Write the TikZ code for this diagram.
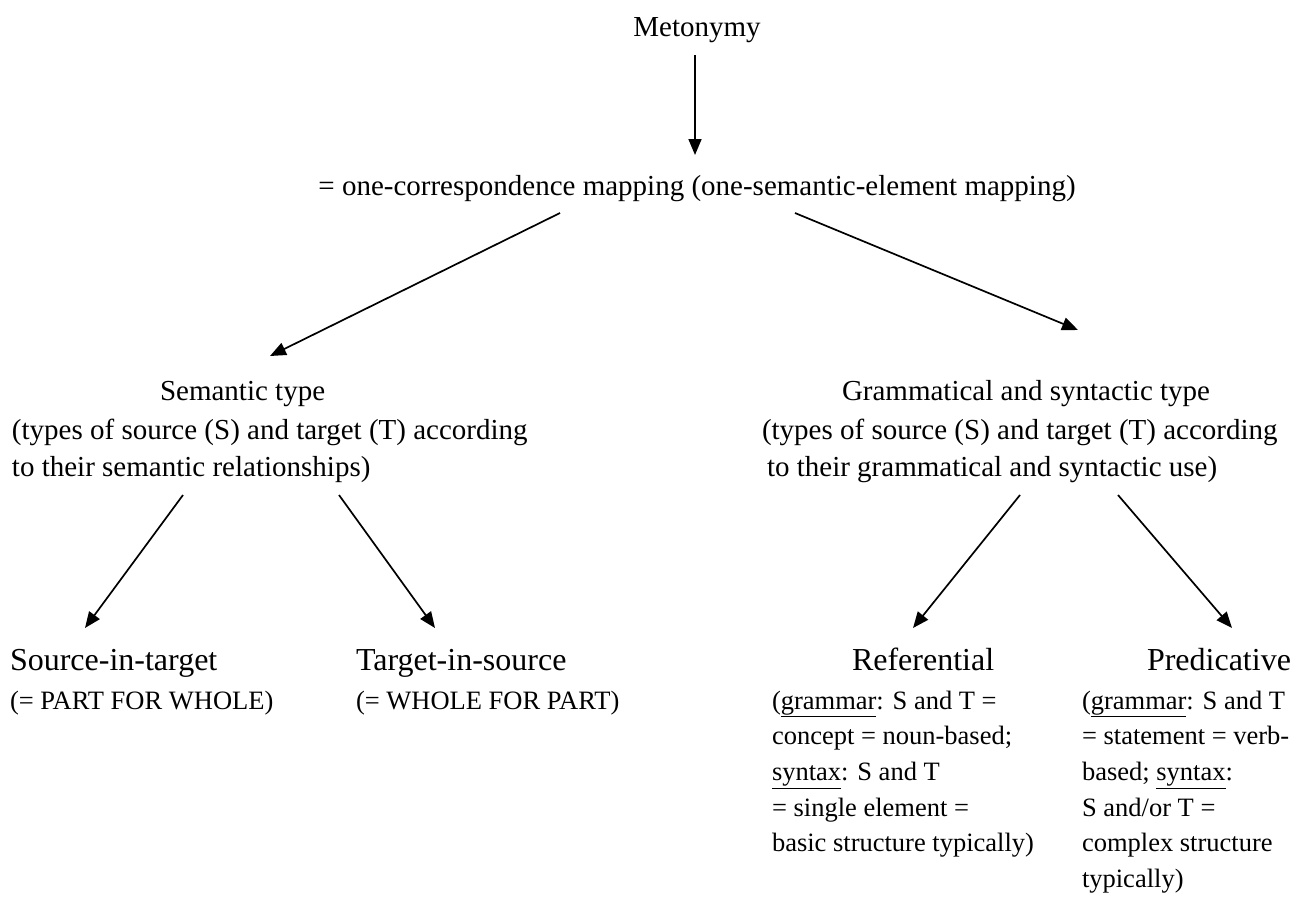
\documentclass[tikz,border=0pt]{standalone}
\usepackage{fontspec}
\setmainfont{Liberation Serif}
\usetikzlibrary{arrows.meta}

\begin{document}
\begin{tikzpicture}
  [x=1pt, y=-1pt,
   every node/.style = {inner sep=0pt, outer sep=0pt},
   lbl/.style = {font=\fontsize{29}{37}\selectfont},
   leaf/.style = {font=\fontsize{32}{38}\selectfont, anchor=base west},
   note/.style = {font=\fontsize{26.5}{35.6}\selectfont, align=left, anchor=north west},
   desc/.style = {lbl, align=left, anchor=north west},
   arr/.style = {-{Triangle[length=16pt, width=13pt]}, line width=1.7pt}
  ]
  \useasboundingbox (0,0) rectangle (1304,900);

  % top of the tree
  \node[lbl, anchor=base] (meto) at (697,36) {Metonymy};
  \node[lbl, anchor=base] (map) at (697,195)
    {= one-correspondence mapping (one-semantic-element mapping)};

  % the two types
  \node[lbl, anchor=base west] (sem) at (160,400) {Semantic type};
  \node[desc] (semdesc) at (12,419)
    {(types of source (S) and target (T) according\\
     to their semantic relationships)};
  \node[lbl, anchor=base west] (gram) at (842,400) {Grammatical and syntactic type};
  \node[desc] (gramdesc) at (762,419)
    {(types of source (S) and target (T) according\\
     \hspace*{5pt}to their grammatical and syntactic use)};

  % leaves
  \node[leaf] (src) at (10,670) {Source-in-target};
  \node[leaf] (tgt) at (356,670) {Target-in-source};
  \node[leaf] (ref) at (852,670) {Referential};
  \node[leaf] (pred) at (1147,670) {Predicative};

  \node[note] (srcdesc) at (10,691) {(= PART FOR WHOLE)};
  \node[note] (tgtdesc) at (356,691) {(= WHOLE FOR PART)};
  \node[note] (refdesc) at (772,691)
    {(\underline{grammar}: S and T =\\
     concept = noun-based;\\
     \underline{syntax}: S and T\\
     = single element =\\
     basic structure typically)};
  \node[note] (preddesc) at (1082,691)
    {(\underline{grammar}: S and T\\
     = statement = verb-\\
     based; \underline{syntax}:\\
     S and/or T =\\
     complex structure\\
     typically)};

  % arrow ends
  \coordinate (m1) at (695,55);   \coordinate (m2) at (695,155);
  \coordinate (l1) at (560,213);  \coordinate (l2) at (270,356);
  \coordinate (r1) at (795,213);  \coordinate (r2) at (1078,330);
  \coordinate (sa) at (183,495);  \coordinate (sb) at (85,628);
  \coordinate (ta) at (339,495);  \coordinate (tb) at (435,628);
  \coordinate (ra) at (1020,495); \coordinate (rb) at (913,628);
  \coordinate (pa) at (1118,495); \coordinate (pb) at (1232,628);

  \draw[arr] (m1) -- (m2);
  \draw[arr] (l1) -- (l2);
  \draw[arr] (r1) -- (r2);
  \draw[arr] (sa) -- (sb);
  \draw[arr] (ta) -- (tb);
  \draw[arr] (ra) -- (rb);
  \draw[arr] (pa) -- (pb);
\end{tikzpicture}
\end{document}
